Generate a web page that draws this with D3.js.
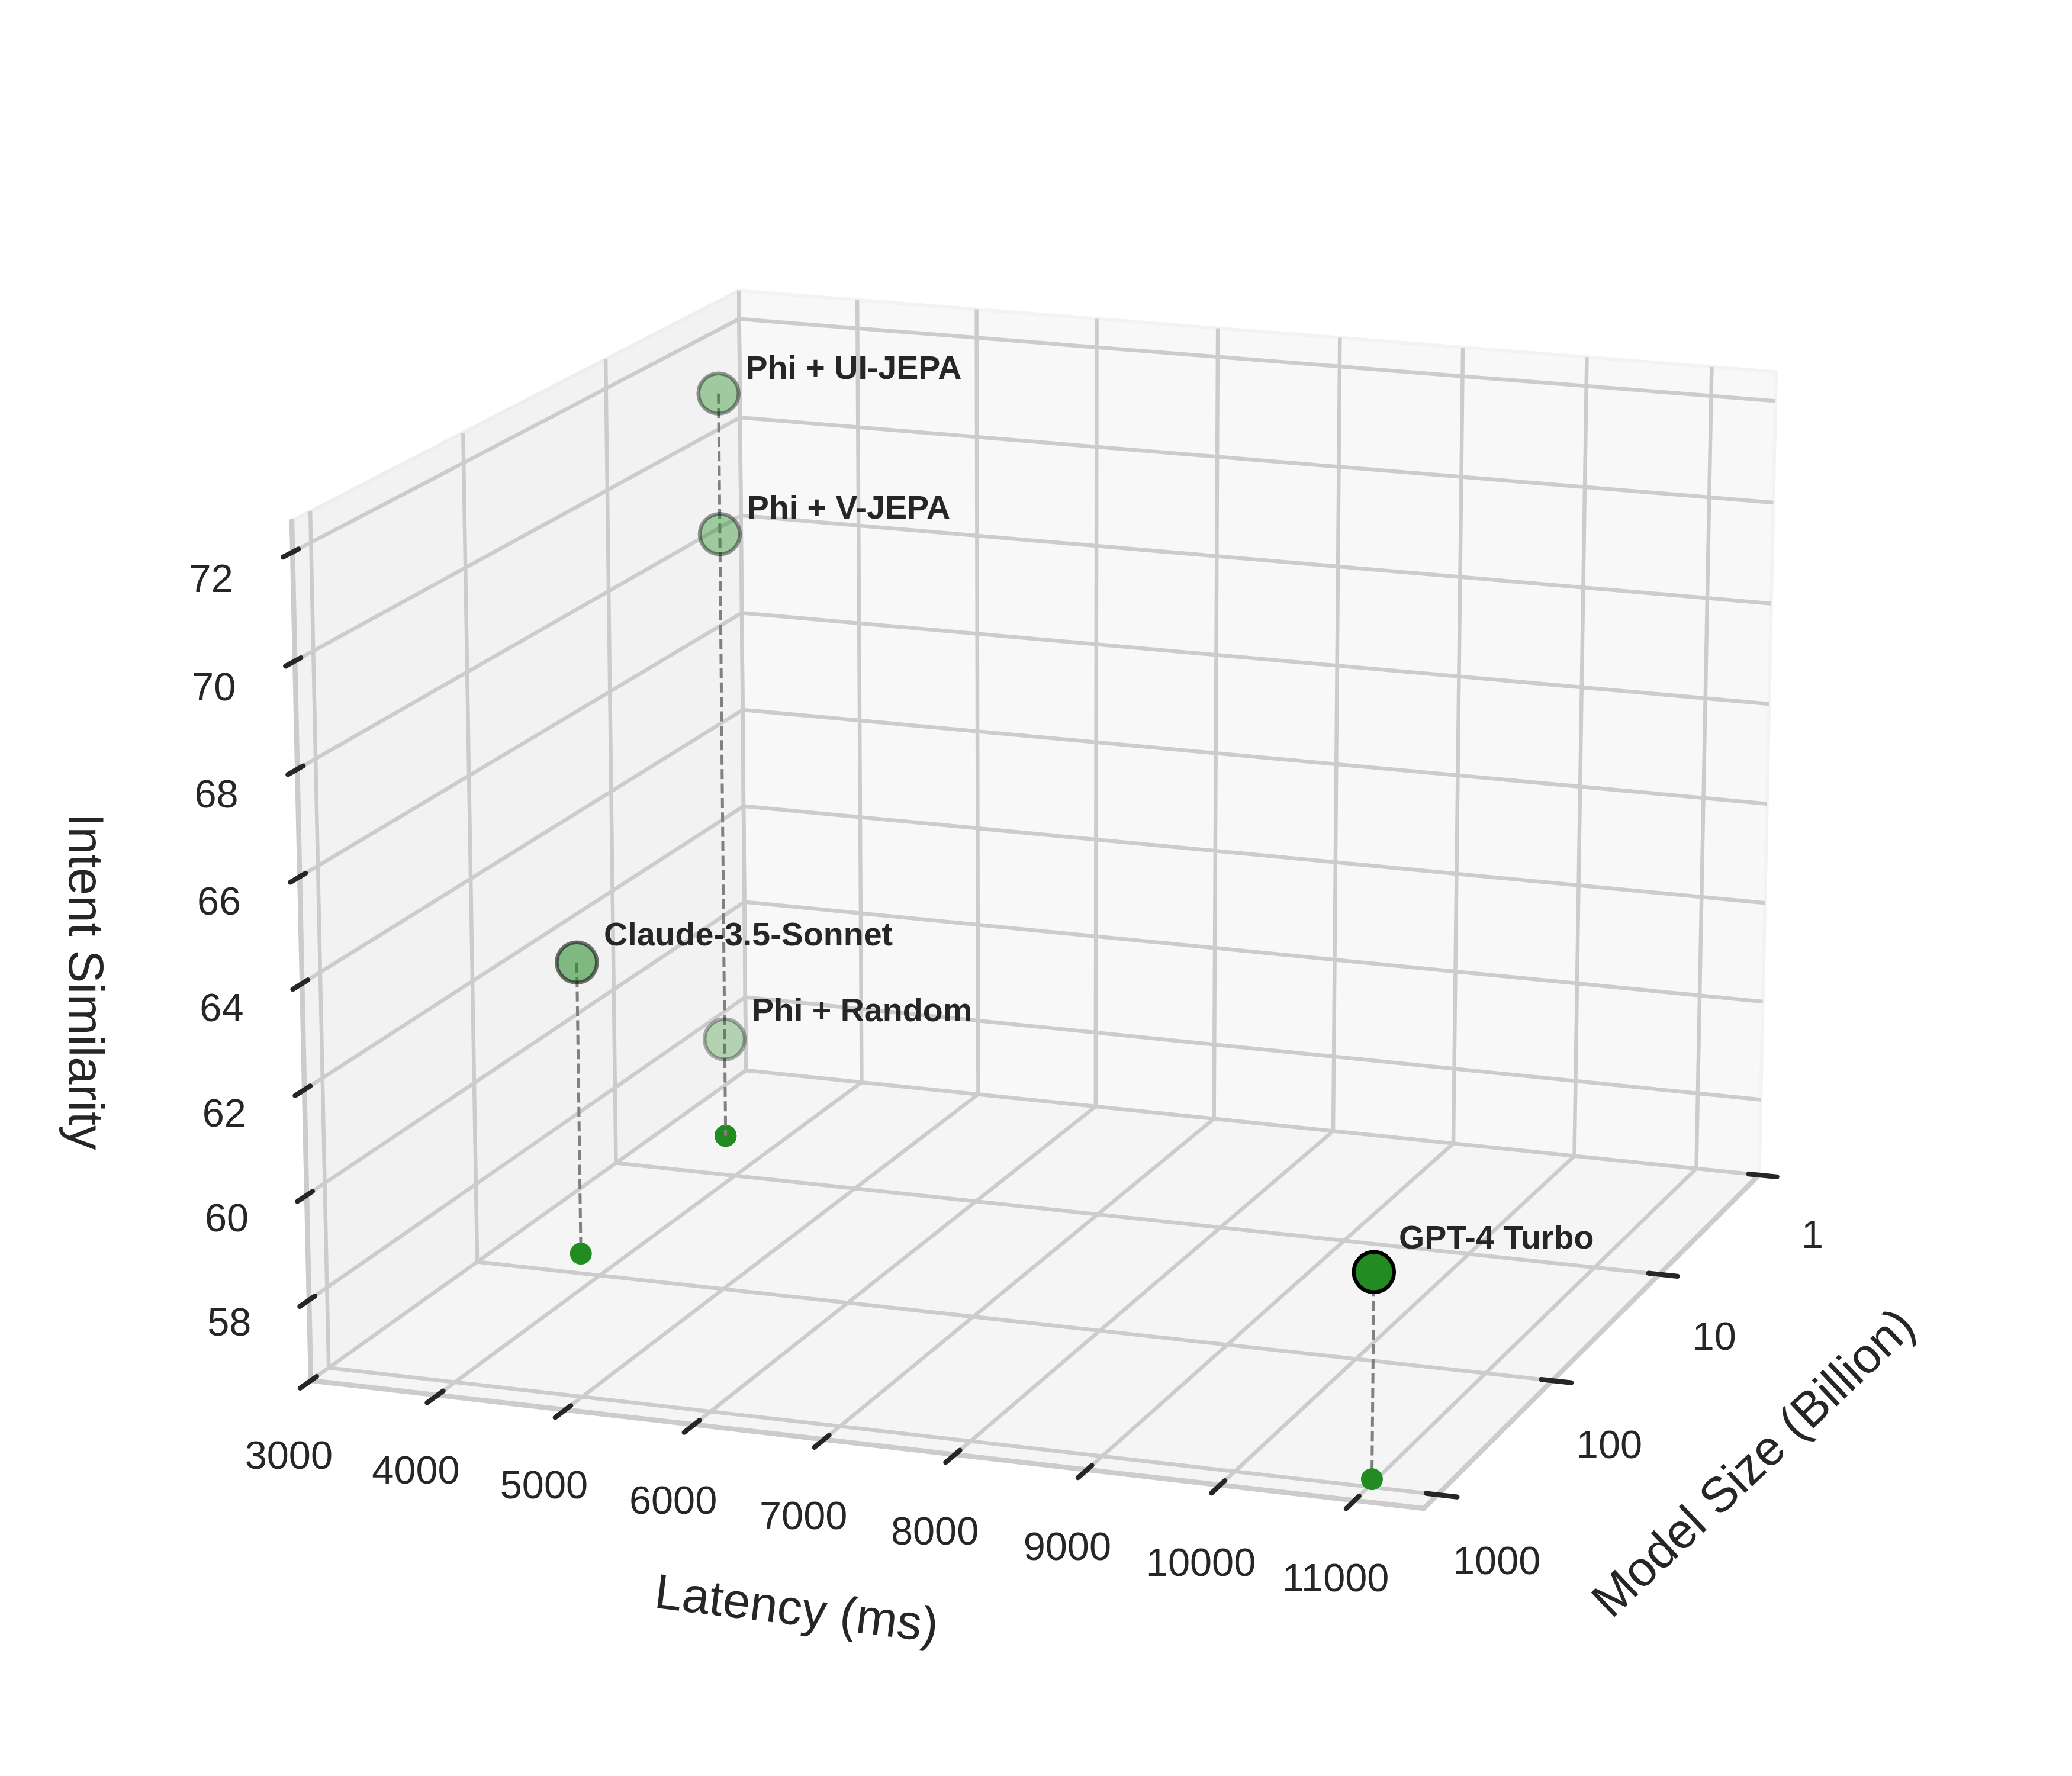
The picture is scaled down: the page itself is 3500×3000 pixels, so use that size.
<!DOCTYPE html>
<html>
<head>
<meta charset="utf-8">
<script src="https://cdn.jsdelivr.net/npm/d3@7"></script>
<style>
  body { margin: 0; background: #fff; }
  text { font-family: "Liberation Sans", Arial, sans-serif; fill: #262626; }
</style>
</head>
<body>
<script>
var models = ['Phi + UI-JEPA', 'Phi + V-JEPA', 'Phi + Random', 'Claude-3.5-Sonnet', 'GPT-4 Turbo'];
var latency = [3530, 3530, 3530, 3655, 10970];
var modelSize = [4.4, 4.4, 4.4, 68, 870];
var similarity = [71.5, 68.7, 58.45, 62.22, 60.32];
var shade = [0.4, 0.4, 0.31, 0.55, 1];

var latencyTicks = [3000, 4000, 5000, 6000, 7000, 8000, 9000, 10000, 11000];
var sizeTicks = [1, 10, 100, 1000];
var similarityTicks = [58, 60, 62, 64, 66, 68, 70, 72];

var green = '#228b22';
var gridColor = '#cccccc';
var inkColor = '#262626';

// data -> unit cube, u goes right, v goes to the back, w goes up
var xScale = d3.scaleLinear().domain([3000, 11512]).range([0, 1]);
var yScale = d3.scaleLog().domain([1306, 1]).range([0, 1]);
var zScale = d3.scaleLinear().domain([56.456, 72.57]).range([0, 1]);

// camera: the cube's corners on screen plus the perspective weight of each axis
var O = [525, 2332], U = [2405, 2548], V = [1260, 1808], W = [493, 880];
var a = 0.965, b = 1.11, c = 0.975;

function cube(u, v, w) {
  var d = 1 + (a - 1) * u + (b - 1) * v + (c - 1) * w;
  var px = O[0] + u * (a * U[0] - O[0]) + v * (b * V[0] - O[0]) + w * (c * W[0] - O[0]);
  var py = O[1] + u * (a * U[1] - O[1]) + v * (b * V[1] - O[1]) + w * (c * W[1] - O[1]);
  return [px / d, py / d];
}

function segment(g, from, to, color, width, cap) {
  var p = cube(from[0], from[1], from[2]);
  var q = cube(to[0], to[1], to[2]);
  return g.append('line')
    .attr('x1', p[0]).attr('y1', p[1])
    .attr('x2', q[0]).attr('y2', q[1])
    .attr('stroke', color)
    .attr('stroke-width', width)
    .attr('stroke-linecap', cap || 'butt');
}

function pane(g, corners, fill, edge) {
  g.append('polygon')
    .attr('points', corners.map(function(k) { return cube(k[0], k[1], k[2]).join(','); }).join(' '))
    .attr('fill', fill)
    .attr('stroke', edge)
    .attr('stroke-width', 6)
    .attr('stroke-linejoin', 'round');
}

function label(g, pos, str, size, angle) {
  return g.append('text')
    .attr('transform', 'translate(' + pos[0] + ',' + pos[1] + ') rotate(' + (angle || 0) + ')')
    .attr('text-anchor', 'middle')
    .attr('dy', '0.36em')
    .style('font-size', size + 'px')
    .text(str);
}

var svg = d3.select('body').append('svg')
  .attr('width', 3500)
  .attr('height', 3000)
  .style('display', 'block')
  .style('background', '#fff');

var panes = svg.append('g');
pane(panes, [[0, 1, 0], [1, 1, 0], [1, 1, 1], [0, 1, 1]], '#f8f8f8', '#f3f3f3');
pane(panes, [[0, 0, 0], [0, 1, 0], [0, 1, 1], [0, 0, 1]], '#f2f2f2', '#eeeeee');
pane(panes, [[0, 0, 0], [1, 0, 0], [1, 1, 0], [0, 1, 0]], '#f5f5f5', '#f5f5f5');

var grid = svg.append('g');
latencyTicks.forEach(function(t) {
  var u = xScale(t);
  segment(grid, [u, 0, 0], [u, 1, 0], gridColor, 6.5);
  segment(grid, [u, 1, 0], [u, 1, 1], gridColor, 6.5);
});
sizeTicks.forEach(function(t) {
  var v = yScale(t);
  segment(grid, [0, v, 0], [1, v, 0], gridColor, 6.5);
  segment(grid, [0, v, 0], [0, v, 1], gridColor, 6.5);
});
similarityTicks.forEach(function(t) {
  var w = zScale(t);
  segment(grid, [0, 0, w], [0, 1, w], gridColor, 6.5);
  segment(grid, [0, 1, w], [1, 1, w], gridColor, 6.5);
});

var axes = svg.append('g');
segment(axes, [0, 0, 0], [1, 0, 0], gridColor, 8.5, 'round');
segment(axes, [1, 0, 0], [1, 1, 0], gridColor, 8.5, 'round');
segment(axes, [0, 0, 0], [0, 0, 1], gridColor, 8.5, 'round');

var ticks = svg.append('g');
latencyTicks.forEach(function(t) {
  var u = xScale(t);
  segment(ticks, [u, 0.012, 0], [u, -0.022, 0], inkColor, 8.3, 'round');
  label(ticks, cube(u, -0.048, -0.068), t, 66.7);
});
sizeTicks.forEach(function(t) {
  var v = yScale(t);
  segment(ticks, [0.99, v, 0], [1.017, v, 0], inkColor, 8.3, 'round');
  label(ticks, cube(1.052, v, -0.068), t, 66.7);
});
similarityTicks.forEach(function(t) {
  var w = zScale(t);
  segment(ticks, [0, 0.012, w], [0, -0.019, w], inkColor, 8.3, 'round');
  label(ticks, cube(0, -0.16, w * 0.977 + 0.041), t, 66.7);
});

label(svg, [1346, 2715], 'Latency (ms)', 83.3, 7);
label(svg, [2960, 2469], 'Model Size (Billion)', 83.3, -43.5);
label(svg, [147, 1658], 'Intent Similarity', 83.3, 90);

var order = d3.range(models.length);
function at(i, z) {
  return cube(xScale(latency[i]), yScale(modelSize[i]), zScale(z));
}
var floor = zScale.domain()[0];

function dots(list) {
  svg.append('g').selectAll('circle')
    .data(list)
    .enter().append('circle')
      .attr('cx', function(i) { return at(i, floor)[0]; })
      .attr('cy', function(i) { return at(i, floor)[1]; })
      .attr('r', 18.5)
      .attr('fill', green);
}

// far floor dots sit under the drop line, near ones over it
function far(i) { return yScale(modelSize[i]) > 0.5; }
dots(order.filter(far));

// models sharing a column share one drop line, from the top point down
var columns = d3.rollups(order, function(ids) {
  return d3.greatest(ids, function(i) { return similarity[i]; });
}, function(i) { return latency[i] + '/' + modelSize[i]; }).map(function(d) { return d[1]; });

svg.append('g').selectAll('line')
  .data(columns)
  .enter().append('line')
    .attr('x1', function(i) { return at(i, similarity[i])[0]; })
    .attr('y1', function(i) { return at(i, similarity[i])[1]; })
    .attr('x2', function(i) { return at(i, floor)[0]; })
    .attr('y2', function(i) { return at(i, floor)[1]; })
    .attr('stroke', '#808080')
    .attr('stroke-width', 5)
    .attr('stroke-dasharray', '17 7.4');

dots(order.filter(function(i) { return !far(i); }));

svg.append('g').selectAll('circle')
  .data(order)
  .enter().append('circle')
    .attr('cx', function(i) { return at(i, similarity[i])[0]; })
    .attr('cy', function(i) { return at(i, similarity[i])[1]; })
    .attr('r', 34)
    .attr('fill', green)
    .attr('fill-opacity', function(i) { return shade[i]; })
    .attr('stroke', '#000')
    .attr('stroke-opacity', function(i) { return shade[i]; })
    .attr('stroke-width', 6.5);

// small drift of the text offset with depth and height
svg.append('g').selectAll('text')
  .data(order)
  .enter().append('text')
    .attr('x', function(i) { return at(i, similarity[i])[0] + 46 - 4 * xScale(latency[i]); })
    .attr('y', function(i) { return at(i, similarity[i])[1] - 31 + 7 * zScale(similarity[i]) - 11 * xScale(latency[i]); })
    .style('font-size', '55.6px')
    .style('font-weight', 'bold')
    .text(function(i) { return models[i]; });
</script>
</body>
</html>
